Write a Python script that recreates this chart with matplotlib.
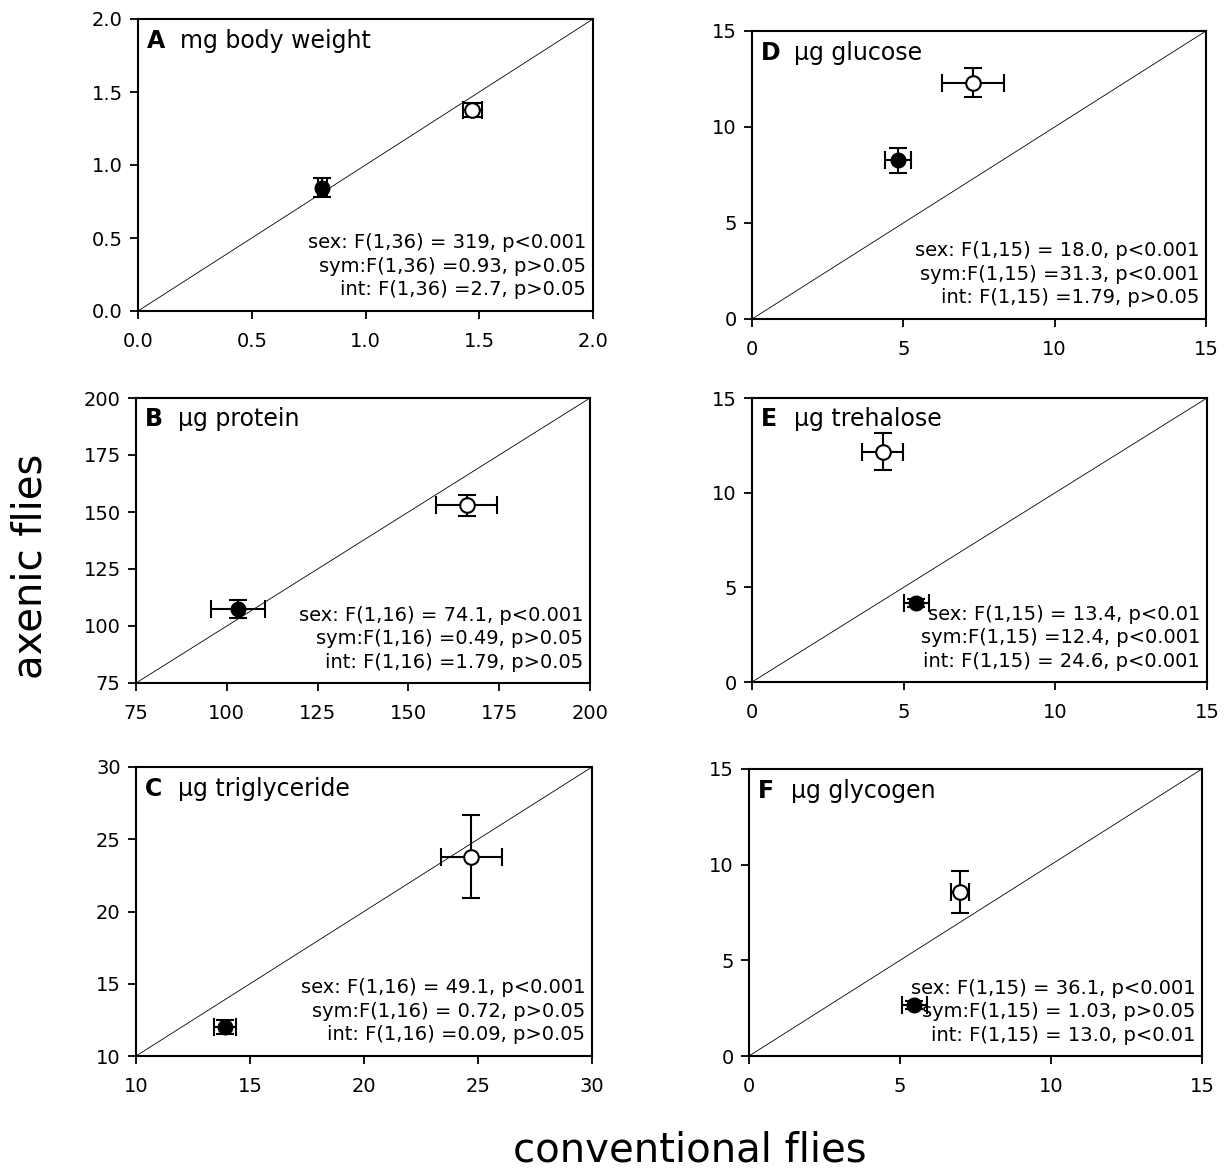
import numpy as np
from matplotlib import pyplot as plt

plt.rcParams['font.family'] = ['DejaVu Sans']

W, H = 1227, 1175

# panel data: letter, label, axis limits, ticks
letters = ['A', 'B', 'C', 'D', 'E', 'F']
labels = ['mg body weight', 'µg protein', 'µg triglyceride',
          'µg glucose', 'µg trehalose', 'µg glycogen']
limits = [(0, 2), (75, 200), (10, 30), (0, 15), (0, 15), (0, 15)]
tick_sets = [[0.0, 0.5, 1.0, 1.5, 2.0],
             [75, 100, 125, 150, 175, 200],
             [10, 15, 20, 25, 30],
             [0, 5, 10, 15], [0, 5, 10, 15], [0, 5, 10, 15]]

# filled = one sex, open = other sex (conventional x, axenic y, +- SE)
filled_x = [0.81, 103.0, 13.9, 4.83, 5.41, 5.47]
filled_y = [0.845, 107.5, 12.0, 8.28, 4.16, 2.67]
filled_xerr = [0.02, 7.4, 0.47, 0.42, 0.41, 0.42]
filled_yerr = [0.064, 4.0, 0.5, 0.65, 0.2, 0.2]

open_x = [1.47, 166.0, 24.7, 7.31, 4.31, 6.99]
open_y = [1.377, 153.0, 23.8, 12.3, 12.17, 8.59]
open_xerr = [0.042, 8.5, 1.34, 1.02, 0.67, 0.29]
open_yerr = [0.05, 4.6, 2.85, 0.76, 0.97, 1.1]

stats = [
    "sex: F(1,36) = 319, p<0.001\nsym:F(1,36) =0.93, p>0.05\nint: F(1,36) =2.7, p>0.05",
    "sex: F(1,16) = 74.1, p<0.001\nsym:F(1,16) =0.49, p>0.05\nint: F(1,16) =1.79, p>0.05",
    "sex: F(1,16) = 49.1, p<0.001\nsym:F(1,16) = 0.72, p>0.05\nint: F(1,16) =0.09, p>0.05",
    "sex: F(1,15) = 18.0, p<0.001\nsym:F(1,15) =31.3, p<0.001\nint: F(1,15) =1.79, p>0.05",
    "sex: F(1,15) = 13.4, p<0.01\nsym:F(1,15) =12.4, p<0.001\nint: F(1,15) = 24.6, p<0.001",
    "sex: F(1,15) = 36.1, p<0.001\nsym:F(1,15) = 1.03, p>0.05\nint: F(1,15) = 13.0, p<0.01",
]

# axes boxes in pixels: left, right, top, bottom
boxes = [(138, 593, 19, 311), (136, 590, 398, 683), (136, 592, 767, 1056),
         (752, 1206, 31, 319), (752, 1207, 398, 682), (749, 1202, 769, 1056)]

fig = plt.figure(figsize=(W / 100, H / 100), dpi=100)

for i in range(6):
    l, r, t, b = boxes[i]
    ax = fig.add_axes([l / W, 1 - b / H, (r - l) / W, (b - t) / H])
    lo, hi = limits[i]
    ax.plot([lo, hi], [lo, hi], color='black', lw=0.6)
    ax.errorbar(filled_x[i], filled_y[i], xerr=filled_xerr[i], yerr=filled_yerr[i],
                fmt='o', ms=10.5, mfc='black', mec='black', ecolor='black',
                elinewidth=1.5, capsize=6.5, capthick=1.5, zorder=3)
    ax.errorbar(open_x[i], open_y[i], xerr=open_xerr[i], yerr=open_yerr[i],
                fmt='o', ms=10.5, mfc='white', mec='black', mew=1.5, ecolor='black',
                elinewidth=1.5, capsize=6.5, capthick=1.5, zorder=3)
    ax.set_xlim(lo, hi)
    ax.set_ylim(lo, hi)
    ax.set_xticks(tick_sets[i])
    ax.set_yticks(tick_sets[i])
    if i == 0:
        ax.set_xticklabels([f'{v:.1f}' for v in tick_sets[i]])
        ax.set_yticklabels([f'{v:.1f}' for v in tick_sets[i]])
    ax.tick_params(direction='out', length=6, width=1.3, labelsize=14)
    ax.tick_params(axis='x', pad=9)
    ax.tick_params(axis='y', pad=5)
    for s in ax.spines.values():
        s.set_linewidth(1.5)
    ax.text(0.02, 0.925, letters[i], transform=ax.transAxes, fontsize=17,
            fontweight='bold', va='center', ha='left')
    ax.annotate(labels[i], xy=(0.02, 0.925), xycoords='axes fraction',
                xytext=(24, 0), textcoords='offset points', fontsize=17,
                va='center', ha='left')
    ax.text(0.985, 0.04, stats[i], transform=ax.transAxes, fontsize=14,
            ha='right', va='bottom', multialignment='right', linespacing=1.3)

fig.text(31 / W, 1 - 566 / H, 'axenic flies', rotation=90, fontsize=29,
         ha='center', va='center')
fig.text(690 / W, 1 - 1150 / H, 'conventional flies', fontsize=29,
         ha='center', va='center')

fig.savefig('out.png', dpi=100)
